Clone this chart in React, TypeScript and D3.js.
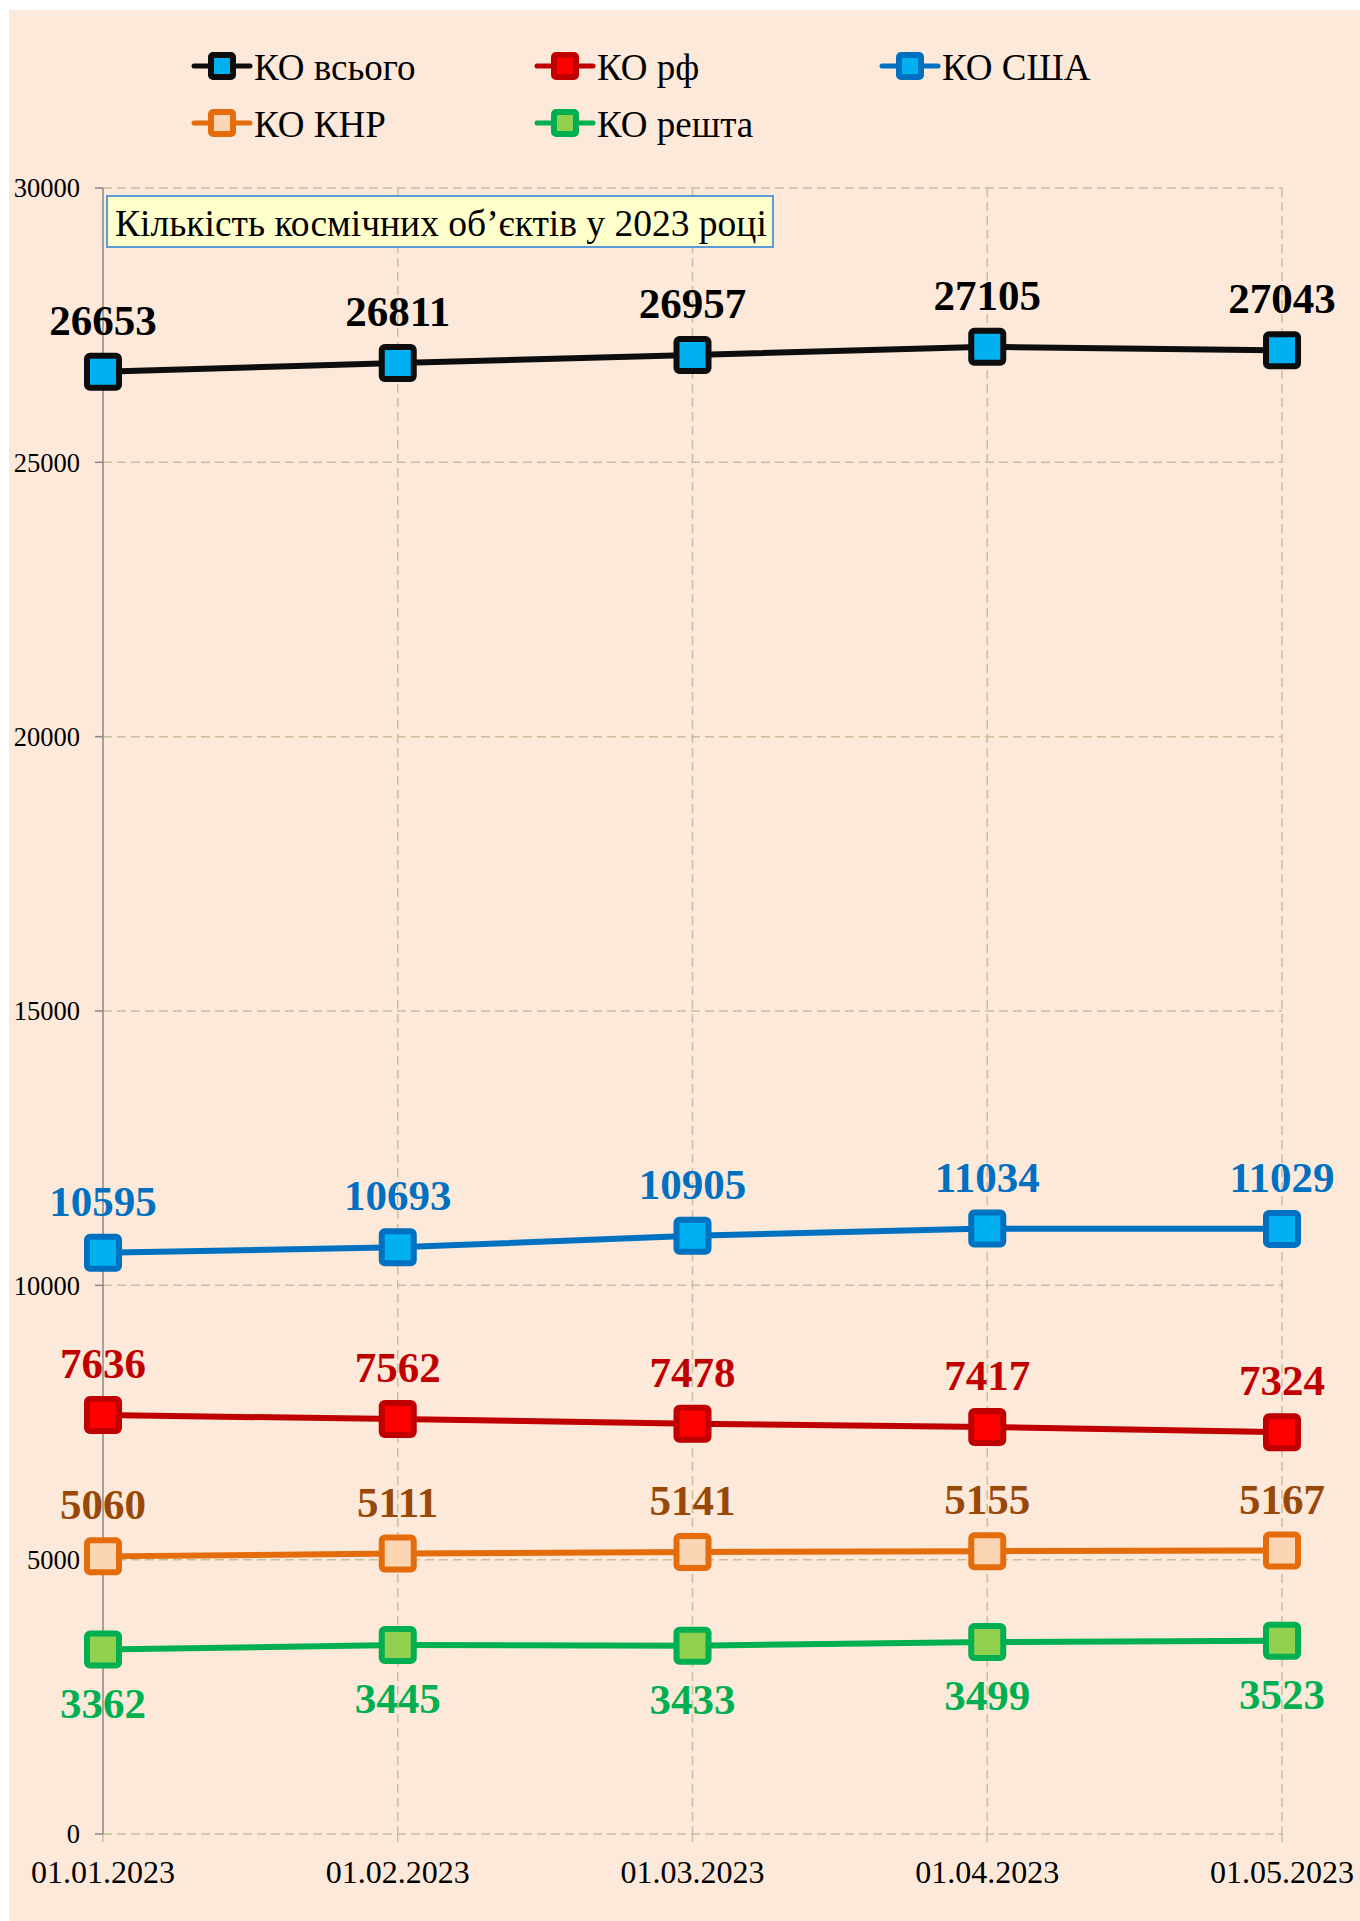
import React from "react";
import * as d3 from "d3";

const dates = ["01.01.2023", "01.02.2023", "01.03.2023", "01.04.2023", "01.05.2023"];
const total = [26653, 26811, 26957, 27105, 27043];
const rf = [7636, 7562, 7478, 7417, 7324];
const usa = [10595, 10693, 10905, 11034, 11029];
const china = [5060, 5111, 5141, 5155, 5167];
const rest = [3362, 3445, 3433, 3499, 3523];
const yTicks = [0, 5000, 10000, 15000, 20000, 25000, 30000];
const titleText = "Кількість космічних об’єктів у 2023 році";

const series = [
  { name: "КО всього", values: total, line: "#0d0d0d", fill: "#00b0f0", label: "#000000", pos: "above" },
  { name: "КО рф", values: rf, line: "#c00000", fill: "#ff0000", label: "#c00000", pos: "above" },
  { name: "КО США", values: usa, line: "#0070c0", fill: "#00b0f0", label: "#0070c0", pos: "above" },
  { name: "КО КНР", values: china, line: "#e46c0a", fill: "#fcd5b5", label: "#984807", pos: "above" },
  { name: "КО решта", values: rest, line: "#00b050", fill: "#92d050", label: "#00b050", pos: "below" },
];

const legendPos = [
  [222, 66], [565, 66], [910, 66],
  [222, 123], [565, 123],
];

const FONT = "'Liberation Serif', 'Times New Roman', serif";

export default function App() {
  const x = d3.scalePoint<string>().domain(dates).range([103, 1282]).padding(0);
  const y = d3.scaleLinear().domain([0, 30000]).range([1834, 188]);
  const grid = "#c9bf9c";
  const lineGen = (vals: number[]) =>
    d3.line<number>().x((_, i) => x(dates[i])!).y((v) => y(v))(vals) || "";
  const ms = 32;

  return (
    <svg
      width={1360}
      height={1921}
      style={{ position: "absolute", left: 0, top: 0, display: "block", fontFamily: FONT }}
    >
      <rect x={0} y={0} width={1360} height={1921} fill="#ffffff" />
      <rect x={9} y={10} width={1351} height={1911} fill="#fde9d9" />

      {yTicks.map((t) => (
        <line key={"hg" + t} x1={103} x2={1282} y1={y(t)} y2={y(t)} stroke={grid} strokeWidth={1.5} strokeDasharray="9,5" />
      ))}
      {dates.slice(1).map((d) => (
        <line key={"vg" + d} x1={x(d)} x2={x(d)} y1={y(30000)} y2={y(0)} stroke={grid} strokeWidth={1.5} strokeDasharray="9,5" />
      ))}
      {dates.map((d) => (
        <line key={"xt" + d} x1={x(d)} x2={x(d)} y1={y(0)} y2={y(0) + 8} stroke={grid} strokeWidth={1.5} />
      ))}
      <line x1={103} x2={103} y1={y(30000)} y2={y(0)} stroke="#878787" strokeWidth={1.5} />
      {yTicks.map((t) => (
        <g key={"yt" + t}>
          <line x1={95} x2={103} y1={y(t)} y2={y(t)} stroke="#878787" strokeWidth={1.5} />
          <text x={80} y={y(t)} dy="0.35em" textAnchor="end" fontSize={26.5} fill="#000">
            {t}
          </text>
        </g>
      ))}
      {dates.map((d) => (
        <text key={"xl" + d} x={x(d)} y={1883} textAnchor="middle" fontSize={32} fill="#000">
          {d}
        </text>
      ))}

      <rect x={107} y={196} width={666} height={51} fill="#ffffcc" stroke="#5b9bd5" strokeWidth={2} />
      <text x={115} y={236} fontSize={37.5} fill="#000">
        {titleText}
      </text>

      {series.map((s) => (
        <g key={s.name}>
          <path d={lineGen(s.values)} fill="none" stroke={s.line} strokeWidth={6} strokeLinejoin="round" />
          {s.values.map((v, i) => (
            <rect
              key={i}
              x={x(dates[i])! - ms / 2}
              y={y(v) - ms / 2}
              width={ms}
              height={ms}
              rx={3}
              fill={s.fill}
              stroke={s.line}
              strokeWidth={6}
            />
          ))}
          {s.values.map((v, i) => (
            <text
              key={"l" + i}
              x={x(dates[i])}
              y={s.pos === "above" ? y(v) - 37 : y(v) + 68}
              textAnchor="middle"
              fontSize={43}
              fontWeight="bold"
              fill={s.label}
            >
              {v}
            </text>
          ))}
        </g>
      ))}

      {series.map((s, i) => {
        const [cx, cy] = legendPos[i];
        return (
          <g key={"lg" + s.name}>
            <line x1={cx - 28} x2={cx + 28} y1={cy} y2={cy} stroke={s.line} strokeWidth={5} strokeLinecap="round" />
            <rect x={cx - 11} y={cy - 11} width={22} height={22} rx={2} fill={s.fill} stroke={s.line} strokeWidth={6} />
            <text x={cx + 32} y={cy + 14} fontSize={37} fill="#000">
              {s.name}
            </text>
          </g>
        );
      })}
    </svg>
  );
}
